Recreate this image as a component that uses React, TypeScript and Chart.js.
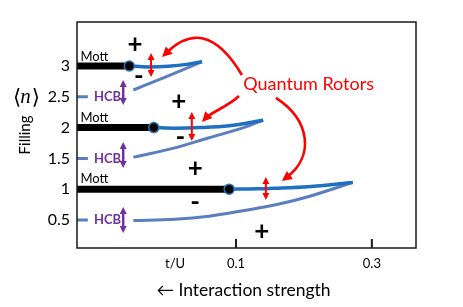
import React, { useEffect, useRef } from 'react';
import { Chart, registerables } from 'chart.js';
Chart.register(...registerables);

// ---- axes ----
const X_MIN = -0.134;
const X_MAX = 0.365;
const Y_MIN = 0.045;
const Y_MAX = 3.714;
const yTickValues = [0.5, 1, 1.5, 2, 2.5, 3];
const xTickValues = [0.0103, 0.1, 0.3];
const xTickLabels = ['t/U', '0.1', '0.3'];
const xTickMarks = [0.1, 0.3];

// ---- Mott plateaus ----
const mottFilling = [3, 2, 1];
const mottEndTU = [-0.057, -0.021, 0.09];

// ---- Quantum rotor upper branches ----
const upper3X = [-0.057, -0.03, 0.0, 0.03, 0.05];
const upper3Y = [3.0, 2.985, 2.995, 3.03, 3.07];
const upper2X = [-0.021, 0.01, 0.047, 0.09, 0.14];
const upper2Y = [2.0, 1.99, 2.0, 2.03, 2.12];
const upper1X = [0.09, 0.13, 0.157, 0.206, 0.272];
const upper1Y = [1.0, 1.005, 1.015, 1.04, 1.11];

// ---- lower (HCB) branches, null = gap for label ----
const lower25X = [-0.134, -0.118, -0.09, -0.051, -0.004, 0.05];
const lower25Y = [2.5, 2.5, null, 2.61, 2.82, 3.07];
const lower15X = [-0.134, -0.118, -0.09, -0.051, 0.01, 0.059, 0.109, 0.14];
const lower15Y = [1.5, 1.5, null, 1.52, 1.67, 1.83, 1.99, 2.12];
const lower05X = [-0.134, -0.118, -0.09, -0.051, 0.01, 0.06, 0.11, 0.16, 0.21, 0.272];
const lower05Y = [0.5, 0.5, null, 0.49, 0.51, 0.56, 0.65, 0.75, 0.89, 1.11];

// ---- annotations (data units) ----
const mottLabelX = -0.129;
const mottLabelY = [3.146, 2.156, 1.166];
const hcbLabelX = -0.089;
const hcbLabelY = [2.5, 1.5, 0.5];
const hcbArrowX = -0.066;
const hcbArrowSpan = [[2.773, 2.367], [1.766, 1.344], [0.711, 0.289]];
const redArrowX = [-0.025, 0.035, 0.144];
const redArrowSpan = [[3.211, 2.821], [2.253, 1.782], [1.198, 0.825]];
const plusX = [-0.0485, 0.016, 0.04, 0.138];
const plusY = [3.34, 2.42, 1.34, 0.305];
const minusX = [-0.043, 0.018, 0.04];
const minusY = [2.82, 1.83, 0.78];
const rotorsLabel = 'Quantum Rotors';
const rotorsLabelPos = [0.207, 2.71];
// curved pointer arrows: [P0, C1, C2, P3]
const pointerCurves = [
  [[0.1088, 2.854], [0.0691, 3.584], [0.0324, 3.584], [-0.0088, 3.146]],
  [[0.1044, 2.513], [0.092, 2.372], [0.062, 2.232], [0.05, 2.091]],
  [[0.1588, 2.481], [0.2088, 2.123], [0.2162, 1.539], [0.1676, 1.133]],
];

const pts = (xs: number[], ys: (number | null)[]) => xs.map((x, i) => ({ x, y: ys[i] }));

const BLUE = '#1F70C1';
const STEEL = '#5B7FBE';
const PURPLE = '#7030A0';
const RED = '#FF0000';
const FONT = 'Lato';

function arrowHead(ctx: CanvasRenderingContext2D, tx: number, ty: number, dx: number, dy: number, len: number, w: number) {
  const l = Math.hypot(dx, dy);
  const ux = dx / l, uy = dy / l;
  const bx = tx - ux * len, by = ty - uy * len;
  ctx.beginPath();
  ctx.moveTo(tx, ty);
  ctx.lineTo(bx - uy * w / 2, by + ux * w / 2);
  ctx.lineTo(bx + uy * w / 2, by - ux * w / 2);
  ctx.closePath();
  ctx.fill();
}

function doubleArrow(ctx: CanvasRenderingContext2D, x: number, y1: number, y2: number, color: string, lw: number, hl: number, hw: number) {
  ctx.strokeStyle = color;
  ctx.fillStyle = color;
  ctx.lineWidth = lw;
  ctx.beginPath();
  ctx.moveTo(x, y1 + hl * 0.8);
  ctx.lineTo(x, y2 - hl * 0.8);
  ctx.stroke();
  arrowHead(ctx, x, y1, 0, -1, hl, hw);
  arrowHead(ctx, x, y2, 0, 1, hl, hw);
}

const annotPlugin = {
  id: 'annot',
  afterDatasetsDraw(chart: any) {
    const { ctx, chartArea: a, scales } = chart;
    const X = (v: number) => scales.x.getPixelForValue(v);
    const Y = (v: number) => scales.y.getPixelForValue(v);
    ctx.save();
    // frame
    ctx.strokeStyle = '#1a1a1a';
    ctx.lineWidth = 1.5;
    ctx.strokeRect(a.left, a.top, a.right - a.left, a.bottom - a.top);
    // inward ticks
    ctx.lineWidth = 2;
    xTickMarks.forEach((v) => {
      ctx.beginPath();
      ctx.moveTo(X(v), a.bottom);
      ctx.lineTo(X(v), a.bottom - 9);
      ctx.stroke();
    });
    // Mott labels
    ctx.fillStyle = '#000';
    ctx.font = `13px ${FONT}`;
    ctx.textAlign = 'left';
    ctx.textBaseline = 'middle';
    mottLabelY.forEach((y) => ctx.fillText('Mott', X(mottLabelX), Y(y)));
    // HCB labels + arrows
    ctx.font = `bold 13px ${FONT}`;
    ctx.textAlign = 'center';
    hcbLabelY.forEach((y, i) => {
      ctx.fillStyle = PURPLE;
      ctx.fillText('HCB', X(hcbLabelX), Y(y));
      doubleArrow(ctx, X(hcbArrowX), Y(hcbArrowSpan[i][0]), Y(hcbArrowSpan[i][1]), PURPLE, 2.5, 7, 7);
    });
    // red double arrows
    redArrowX.forEach((x, i) => {
      doubleArrow(ctx, X(x), Y(redArrowSpan[i][0]), Y(redArrowSpan[i][1]), RED, 2, 7, 7);
    });
    // plus / minus
    ctx.fillStyle = '#000';
    ctx.font = `bold 26px ${FONT}`;
    ctx.textAlign = 'center';
    ctx.textBaseline = 'middle';
    plusX.forEach((x, i) => ctx.fillText('+', X(x), Y(plusY[i])));
    minusX.forEach((x, i) => ctx.fillText('-', X(x), Y(minusY[i])));
    // Quantum Rotors label
    ctx.fillStyle = RED;
    ctx.font = `18px ${FONT}`;
    ctx.fillText(rotorsLabel, X(rotorsLabelPos[0]), Y(rotorsLabelPos[1]));
    // curved pointers
    ctx.strokeStyle = RED;
    ctx.lineWidth = 2.6;
    pointerCurves.forEach((c) => {
      const p = c.map(([vx, vy]) => [X(vx), Y(vy)]);
      const dx = p[3][0] - p[2][0], dy = p[3][1] - p[2][1];
      const l = Math.hypot(dx, dy);
      const ex = p[3][0] - (dx / l) * 6, ey = p[3][1] - (dy / l) * 6;
      ctx.beginPath();
      ctx.moveTo(p[0][0], p[0][1]);
      ctx.bezierCurveTo(p[1][0], p[1][1], p[2][0], p[2][1], ex, ey);
      ctx.stroke();
      arrowHead(ctx, p[3][0], p[3][1], dx, dy, 10, 10);
    });
    // axis titles
    ctx.fillStyle = '#000';
    ctx.font = `17.5px ${FONT}`;
    ctx.textAlign = 'center';
    ctx.textBaseline = 'middle';
    ctx.fillText('\u2190 Interaction strength', (a.left + a.right) / 2 - 3, a.bottom + 42);
    ctx.save();
    ctx.translate(a.left - 52, Y(1.88));
    ctx.rotate(-Math.PI / 2);
    ctx.font = `15px ${FONT}`;
    ctx.fillText('Filling', 0, 0);
    ctx.restore();
    // <n>
    ctx.textAlign = 'left';
    ctx.textBaseline = 'alphabetic';
    const by = Y(2.5) + 6;
    let cx = a.left - 64;
    ctx.font = '21px "DejaVu Serif"';
    ctx.fillText('\u27E8', cx, by + 1);
    cx += ctx.measureText('\u27E8').width - 1;
    ctx.font = 'italic 21px "Liberation Serif"';
    ctx.fillText('n', cx, by);
    cx += ctx.measureText('n').width + 1;
    ctx.font = '21px "DejaVu Serif"';
    ctx.fillText('\u27E9', cx, by + 1);
    ctx.restore();
  },
};

export default function App() {
  const ref = useRef<HTMLCanvasElement>(null);
  useEffect(() => {
    if (!ref.current) return;
    const line = (data: any[], color: string, width: number) => ({
      data,
      borderColor: color,
      backgroundColor: color,
      borderWidth: width,
      pointRadius: 0,
      cubicInterpolationMode: 'monotone',
      spanGaps: false,
      borderCapStyle: 'butt',
    });
    const mottSets = mottFilling.map((n, i) => ({
      data: [{ x: X_MIN, y: n }, { x: mottEndTU[i], y: n }],
      borderColor: '#000',
      backgroundColor: '#000',
      borderWidth: 7,
      pointRadius: (c: any) => (c.dataIndex === 1 ? 5 : 0),
      pointBackgroundColor: '#000',
      pointBorderColor: '#2E75B6',
      pointBorderWidth: 1.5,
    }));
    const chart = new Chart(ref.current, {
      type: 'line',
      data: {
        datasets: [
          ...mottSets,
          line(pts(upper3X, upper3Y), BLUE, 3.5),
          line(pts(upper2X, upper2Y), BLUE, 3.5),
          line(pts(upper1X, upper1Y), BLUE, 3.5),
          line(pts(lower25X, lower25Y), STEEL, 3),
          line(pts(lower15X, lower15Y), STEEL, 3),
          line(pts(lower05X, lower05Y), STEEL, 3),
        ] as any,
      },
      options: {
        animation: false,
        responsive: true,
        maintainAspectRatio: false,
        layout: { padding: { top: 22, right: 47, left: 0, bottom: 0 } },
        plugins: { legend: { display: false }, tooltip: { enabled: false } },
        scales: {
          x: {
            type: 'linear',
            min: X_MIN,
            max: X_MAX,
            grid: { display: false, drawTicks: false },
            border: { display: false },
            afterBuildTicks: (s: any) => { s.ticks = xTickValues.map((v) => ({ value: v })); },
            afterFit: (s: any) => { s.height = 59; },
            ticks: {
              padding: 8,
              color: '#000',
              font: { family: FONT, size: 13 },
              callback: (_v: any, i: number) => xTickLabels[i],
              maxRotation: 0,
              autoSkip: false,
            },
          },
          y: {
            type: 'linear',
            min: Y_MIN,
            max: Y_MAX,
            grid: { display: false, drawTicks: false },
            border: { display: false },
            afterBuildTicks: (s: any) => { s.ticks = yTickValues.map((v) => ({ value: v })); },
            afterFit: (s: any) => { s.width = 77; },
            ticks: {
              padding: 7,
              color: '#000',
              font: { family: FONT, size: 16 },
              callback: (v: any) => String(v),
            },
          },
        },
      },
      plugins: [annotPlugin],
    });
    return () => chart.destroy();
  }, []);
  return (
    <div style={{ position: 'absolute', left: 0, top: 0, width: 463, height: 307 }}>
      <canvas ref={ref} />
    </div>
  );
}
